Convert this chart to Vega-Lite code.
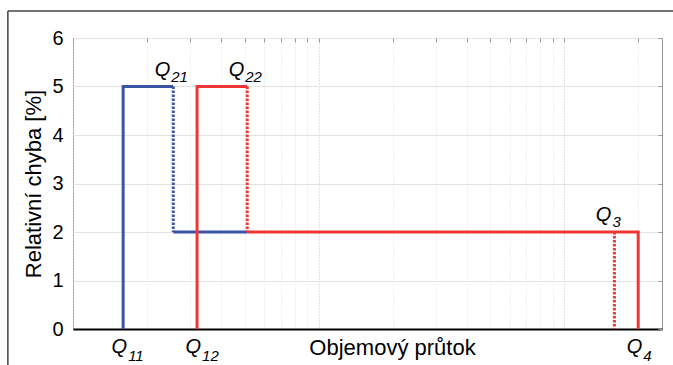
{
  "$schema": "https://vega.github.io/schema/vega-lite/v6.json",
  "width": 589,
  "height": 291,
  "autosize": {"type": "none"},
  "padding": {"left": 73, "top": 38, "right": 11, "bottom": 36},
  "background": "white",
  "config": {
    "font": "Liberation Sans",
    "view": {"stroke": "#9a9a9a", "strokeWidth": 1}
  },
  "datasets": {
    "lines": [
      {"s": "blue", "seg": "b1", "style": "solid", "o": 1, "x": 1.6, "y": 0},
      {"s": "blue", "seg": "b1", "style": "solid", "o": 2, "x": 1.6, "y": 5},
      {"s": "blue", "seg": "b1", "style": "solid", "o": 3, "x": 2.56, "y": 5},
      {"s": "blue", "seg": "b2", "style": "dotted", "o": 1, "x": 2.56, "y": 5},
      {"s": "blue", "seg": "b2", "style": "dotted", "o": 2, "x": 2.56, "y": 2},
      {"s": "blue", "seg": "b3", "style": "solid", "o": 1, "x": 2.56, "y": 2},
      {"s": "blue", "seg": "b3", "style": "solid", "o": 2, "x": 5.12, "y": 2},
      {"s": "red", "seg": "r1", "style": "solid", "o": 1, "x": 3.2, "y": 0},
      {"s": "red", "seg": "r1", "style": "solid", "o": 2, "x": 3.2, "y": 5},
      {"s": "red", "seg": "r1", "style": "solid", "o": 3, "x": 5.12, "y": 5},
      {"s": "red", "seg": "r2", "style": "dotted", "o": 1, "x": 5.12, "y": 5},
      {"s": "red", "seg": "r2", "style": "dotted", "o": 2, "x": 5.12, "y": 2},
      {"s": "red", "seg": "r3", "style": "solid", "o": 1, "x": 5.12, "y": 2},
      {"s": "red", "seg": "r3", "style": "solid", "o": 2, "x": 200, "y": 2},
      {"s": "red", "seg": "r3", "style": "solid", "o": 3, "x": 200, "y": 0},
      {"s": "red", "seg": "r4", "style": "dotted", "o": 1, "x": 160, "y": 2},
      {"s": "red", "seg": "r4", "style": "dotted", "o": 2, "x": 160, "y": 0}
    ],
    "labels": [
      {"q": "Q", "sub": "11", "x": 1.6, "y": 0, "pos": "b"},
      {"q": "Q", "sub": "12", "x": 3.2, "y": 0, "pos": "b"},
      {"q": "Q", "sub": "4", "x": 200, "y": 0, "pos": "b"},
      {"q": "Q", "sub": "21", "x": 2.56, "y": 5, "pos": "t"},
      {"q": "Q", "sub": "22", "x": 5.12, "y": 5, "pos": "t"},
      {"q": "Q", "sub": "3", "x": 160, "y": 2, "pos": "t"}
    ],
    "frame": [
      {"x": 0.543, "y": 6.557, "x2": 0.543, "y2": -1},
      {"x": 0.543, "y": 6.557, "x2": 400, "y2": 6.557}
    ]
  },
  "layer": [
    {
      "data": {"name": "lines"},
      "transform": [{"filter": "datum.s == 'blue'"}],
      "mark": {"type": "line", "color": "#3a55a6", "strokeWidth": 3, "strokeJoin": "miter", "strokeCap": "butt"},
      "encoding": {
        "x": {
          "field": "x", "type": "quantitative",
          "scale": {"type": "log", "domain": [1, 250], "nice": false},
          "axis": {
            "orient": "bottom",
            "values": [1, 2, 3, 4, 5, 6, 7, 8, 9, 10, 20, 30, 40, 50, 60, 70, 80, 90, 100, 200],
            "labels": false, "ticks": false,
            "grid": true, "gridDash": [1, 2],
            "gridColor": {"condition": {"test": "datum.value == 10 || datum.value == 100", "value": "#c4c4c4"}, "value": "#e0e0e0"},
            "domain": true, "domainColor": "#000000", "domainWidth": 2,
            "title": "Objemový průtok", "titleFontSize": 22, "titleFontWeight": "normal", "titleColor": "#000000",
            "titleX": 319, "titleY": 25, "titleBaseline": "alphabetic", "titleAlign": "center"
          }
        },
        "y": {
          "field": "y", "type": "quantitative",
          "scale": {"domain": [0, 6], "nice": false},
          "axis": {
            "orient": "left",
            "values": [0, 1, 2, 3, 4, 5, 6],
            "labelFontSize": 20, "labelColor": "#000000", "labelPadding": 10,
            "ticks": false, "domain": false,
            "grid": true, "gridColor": "#e2e2e2",
            "title": "Relativní chyba [%]", "titleFontSize": 22, "titleFontWeight": "normal", "titleColor": "#000000",
            "titleAngle": -90, "titleX": -33, "titleY": 145.5, "titleBaseline": "alphabetic", "titleAlign": "center"
          }
        },
        "detail": {"field": "seg"},
        "order": {"field": "o"},
        "strokeDash": {"field": "style", "scale": {"domain": ["solid", "dotted"], "range": [[1, 0], [2.5, 1.5]]}, "legend": null}
      }
    },
    {
      "data": {"name": "lines"},
      "transform": [{"filter": "datum.s == 'red'"}],
      "mark": {"type": "line", "color": "#f03535", "strokeWidth": 3, "strokeJoin": "miter", "strokeCap": "butt"},
      "encoding": {
        "x": {
          "field": "x", "type": "quantitative",
          "axis": {
            "orient": "top",
            "values": [1, 2, 3, 4, 5, 6, 7, 8, 9, 10, 20, 30, 40, 50, 60, 70, 80, 90, 100, 200],
            "labels": false, "ticks": true, "tickSize": -4, "tickColor": "#9a9a9a",
            "grid": false, "domain": false, "title": null
          }
        },
        "y": {
          "field": "y", "type": "quantitative",
          "axis": {
            "orient": "right",
            "values": [0, 1, 2, 3, 4, 5, 6],
            "labels": false, "ticks": true, "tickSize": -4, "tickColor": "#9a9a9a",
            "grid": false, "domain": false, "title": null
          }
        },
        "detail": {"field": "seg"},
        "order": {"field": "o"},
        "strokeDash": {"field": "style", "scale": {"domain": ["solid", "dotted"], "range": [[1, 0], [2.5, 1.5]]}, "legend": null}
      }
    },
    {
      "data": {"name": "frame"},
      "mark": {"type": "rule", "color": "#444444", "strokeWidth": 1.5},
      "encoding": {
        "x": {"field": "x", "type": "quantitative", "axis": null},
        "x2": {"field": "x2"},
        "y": {"field": "y", "type": "quantitative", "axis": null},
        "y2": {"field": "y2"}
      }
    },
    {
      "data": {"name": "labels"},
      "transform": [{"filter": "datum.pos == 'b'"}],
      "mark": {"type": "text", "align": "right", "baseline": "alphabetic", "dx": 4, "dy": 24, "fontSize": 20, "fontStyle": "italic", "color": "#000000"},
      "encoding": {
        "x": {"field": "x", "type": "quantitative", "axis": null},
        "y": {"field": "y", "type": "quantitative", "axis": null},
        "text": {"field": "q"}
      }
    },
    {
      "data": {"name": "labels"},
      "transform": [{"filter": "datum.pos == 'b'"}],
      "mark": {"type": "text", "align": "left", "baseline": "alphabetic", "dx": 5, "dy": 32, "fontSize": 15, "fontStyle": "italic", "color": "#000000"},
      "encoding": {
        "x": {"field": "x", "type": "quantitative", "axis": null},
        "y": {"field": "y", "type": "quantitative", "axis": null},
        "text": {"field": "sub"}
      }
    },
    {
      "data": {"name": "labels"},
      "transform": [{"filter": "datum.pos == 't'"}],
      "mark": {"type": "text", "align": "right", "baseline": "alphabetic", "dx": -3, "dy": -11, "fontSize": 20, "fontStyle": "italic", "color": "#000000"},
      "encoding": {
        "x": {"field": "x", "type": "quantitative", "axis": null},
        "y": {"field": "y", "type": "quantitative", "axis": null},
        "text": {"field": "q"}
      }
    },
    {
      "data": {"name": "labels"},
      "transform": [{"filter": "datum.pos == 't'"}],
      "mark": {"type": "text", "align": "left", "baseline": "alphabetic", "dx": -2, "dy": -5, "fontSize": 15, "fontStyle": "italic", "color": "#000000"},
      "encoding": {
        "x": {"field": "x", "type": "quantitative", "axis": null},
        "y": {"field": "y", "type": "quantitative", "axis": null},
        "text": {"field": "sub"}
      }
    }
  ],
  "resolve": {"axis": {"x": "independent", "y": "independent"}}
}
